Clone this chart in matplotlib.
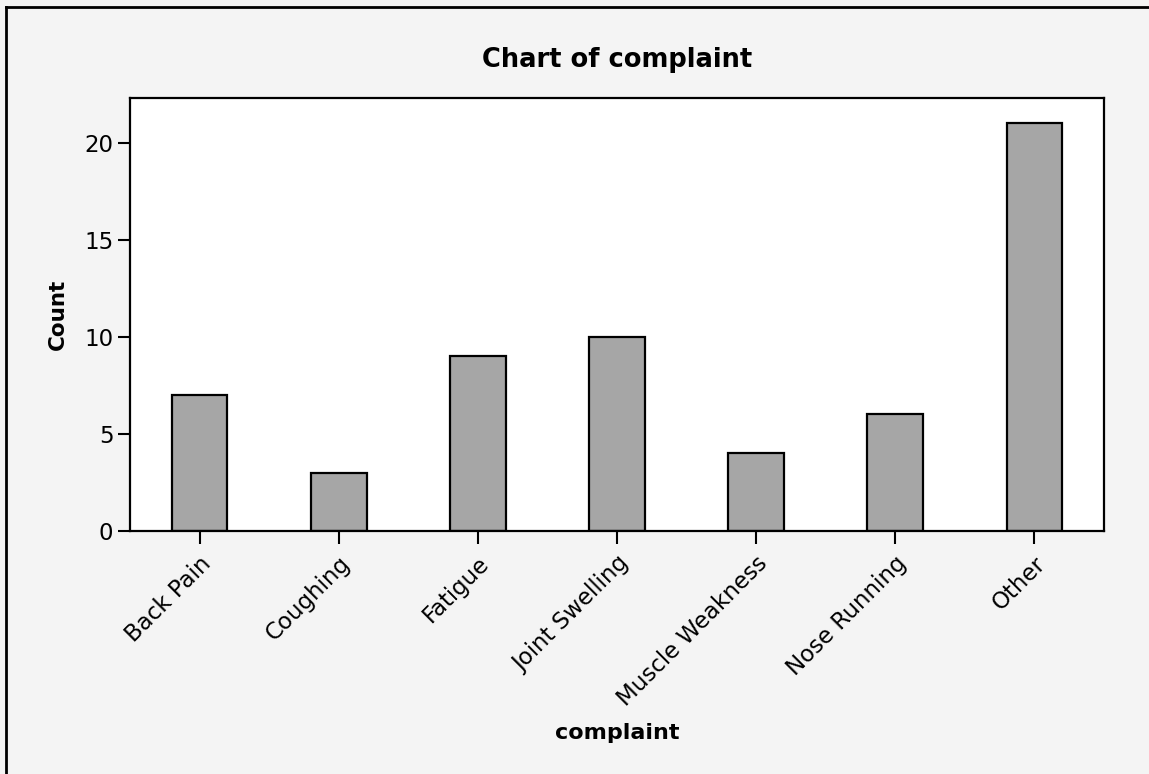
import matplotlib
matplotlib.use("Agg")
import matplotlib.pyplot as plt
from matplotlib.lines import Line2D

categories = ["Back Pain", "Coughing", "Fatigue", "Joint Swelling",
              "Muscle Weakness", "Nose Running", "Other"]
counts = [7, 3, 9, 10, 4, 6, 21]
yticks = [0, 5, 10, 15, 20]

plt.rcParams['font.family'] = ['DejaVu Sans']
W, H = 1149, 774
fig = plt.figure(figsize=(W / 100, H / 100), dpi=100, facecolor='#f4f4f4')
ax = fig.add_axes([130 / W, 1 - 531 / H, (1104 - 130) / W, (531 - 98) / H])
ax.set_facecolor('white')

x = list(range(len(categories)))
ax.bar(x, counts, width=0.4, color='#a6a6a6', edgecolor='black', linewidth=1.6)
ax.set_xlim(-0.5, len(categories) - 0.5)
ax.set_ylim(0, 22.3)
ax.set_yticks(yticks)
ax.set_xticks(x)
ax.set_xticklabels(categories, rotation=45, ha='right', rotation_mode='anchor')
ax.tick_params(axis='both', labelsize=16.5, length=9, width=1.5, direction='out', pad=3)
ax.tick_params(axis='x', pad=6)
for s in ax.spines.values():
    s.set_linewidth(1.6)

ax.set_title("Chart of complaint", fontsize=18.5, fontweight='bold', pad=22)
ax.set_ylabel("Count", fontsize=15.5, fontweight='bold', labelpad=12)
ax.set_xlabel("complaint", fontsize=16, fontweight='bold')
ax.xaxis.set_label_coords(0.5, (1 - 733 / H - (1 - 531 / H)) / ((531 - 98) / H))
ax.xaxis.label.set_va('center')

# outer frame (left and top edges)
fig.add_artist(Line2D([6 / W, 6 / W], [0, 1 - 7 / H], transform=fig.transFigure, color='black', linewidth=2))
fig.add_artist(Line2D([6 / W, 1], [1 - 7 / H, 1 - 7 / H], transform=fig.transFigure, color='black', linewidth=2))

fig.savefig("out.png", dpi=100, facecolor=fig.get_facecolor())
